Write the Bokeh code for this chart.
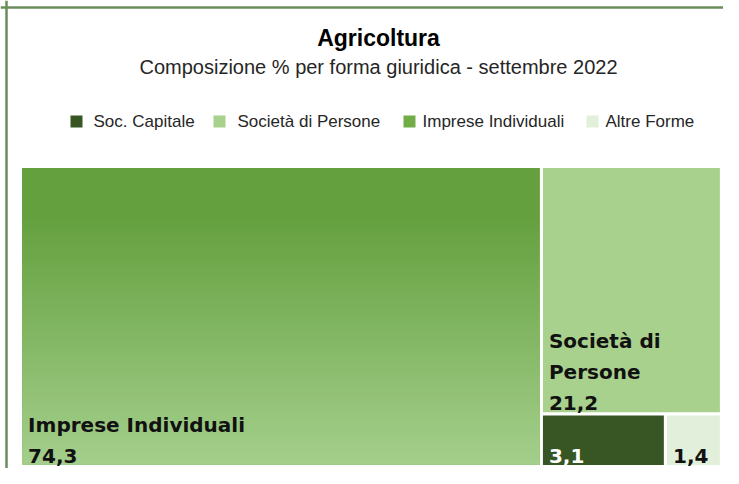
import numpy as np
from bokeh.plotting import figure
from bokeh.models import Range1d, ColumnDataSource, Span
from bokeh.core.properties import value
from bokeh.embed import file_html
from bokeh.resources import INLINE

# ---------------- data ----------------
title_text = "Agricoltura"
subtitle_text = "Composizione % per forma giuridica - settembre 2022"
legend_names = ["Soc. Capitale", "Società di Persone", "Imprese Individuali", "Altre Forme"]
legend_colors = ["#375623", "#a9d18e", "#70ad47", "#e2efda"]
categories = ["Imprese Individuali", "Società di Persone", "Soc. Capitale", "Altre Forme"]
values = [74.3, 21.2, 3.1, 1.4]
value_labels = ["74,3", "21,2", "3,1", "1,4"]
cat_colors = ["#70ad47", "#a9d18e", "#375623", "#e2efda"]
label_colors = ["#111111", "#111111", "#ffffff", "#111111"]

# ---------------- layout constants ----------------
W, H = 723, 468
BOX = (20, 2, 721, 302)          # left, bottom, right, top (data = pixels)
GAP = 1.6
SANS = "Liberation Sans"
LABEL_FONT = "DejaVu Sans"
LABEL_SIZE = 20

p = figure(width=W, height=H, x_range=Range1d(0, W), y_range=Range1d(0, H),
           output_backend="svg", toolbar_location=None, min_border=0,
           x_axis_type=None, y_axis_type=None)
p.grid.visible = False
p.outline_line_color = None
p.background_fill_color = "white"

# frame (top and left visible)
p.add_layout(Span(location=H - 7, dimension="width", line_color="#6b8d5c", line_width=2.5))
p.add_layout(Span(location=6, dimension="height", line_color="#6b8d5c", line_width=2.5))


def slice_dice(vals, x0, y0, x1, y1):
    rects = []
    remaining = float(sum(vals))
    horizontal = True
    for i, v in enumerate(vals):
        if i == len(vals) - 1:
            rects.append((x0, y0, x1, y1))
            break
        frac = v / remaining
        if horizontal:
            xm = x0 + (x1 - x0) * frac
            rects.append((x0, y0, xm, y1))
            x0 = xm
        else:
            ym = y1 - (y1 - y0) * frac
            rects.append((x0, ym, x1, y1))
            y1 = ym
        remaining -= v
        horizontal = not horizontal
    return rects


rects = slice_dice(values, *BOX)
lefts = [r[0] + GAP for r in rects]
bottoms = [r[1] + GAP for r in rects]
rights = [r[2] - GAP for r in rects]
tops = [r[3] - GAP for r in rects]

src = ColumnDataSource(dict(left=lefts, right=rights, bottom=bottoms, top=tops,
                            color=cat_colors, name=categories))
p.quad(left="left", right="right", bottom="bottom", top="top", fill_color="color",
       line_color=None, source=src)

# gradient on the largest tile
def hex_rgb(h):
    h = h.lstrip("#")
    return [int(h[i:i + 2], 16) for i in (0, 2, 4)]

top_c = np.array(hex_rgb("#64a03e"), float)
bot_c = np.array(hex_rgb("#a4cf8c"), float)
N = 120
t = np.linspace(0, 1, N)[:, None]  # row 0 = bottom
t = np.clip(t / 0.85, 0, 1)
cols = bot_c * (1 - t) + top_c * t
img = np.zeros((N, 1), dtype=np.uint32)
view = img.view(dtype=np.uint8).reshape((N, 1, 4))
view[:, 0, 0] = cols[:, 0].astype(np.uint8)
view[:, 0, 1] = cols[:, 1].astype(np.uint8)
view[:, 0, 2] = cols[:, 2].astype(np.uint8)
view[:, 0, 3] = 255
i0 = int(np.argmax(values))
p.image_rgba(image=[img], x=lefts[i0], y=bottoms[i0], dw=rights[i0] - lefts[i0],
             dh=tops[i0] - bottoms[i0])

# tile labels
def wrap(text, maxw, size):
    words = text.split()
    lines, cur = [], ""
    for w in words:
        cand = (cur + " " + w).strip()
        if len(cand) * 0.62 * size <= maxw or not cur:
            cur = cand
        else:
            lines.append(cur)
            cur = w
    if cur:
        lines.append(cur)
    return lines

LINE = 31
lx, ly, lt, lc = [], [], [], []
for i, name in enumerate(categories):
    x = lefts[i] + 6
    base = bottoms[i] + 9
    lines = wrap(name, rights[i] - lefts[i] - 14, LABEL_SIZE)
    h = tops[i] - bottoms[i]
    all_lines = [value_labels[i]]
    if h >= (len(lines) + 1) * LINE + 14:
        all_lines = lines + [value_labels[i]]
    n = len(all_lines)
    for k, ln in enumerate(all_lines):
        lx.append(x)
        ly.append(base + (n - 1 - k) * LINE)
        lt.append(ln)
        lc.append(label_colors[i])

p.text(x=lx, y=ly, text=lt, text_color=lc, text_font=value(LABEL_FONT),
       text_font_style="bold", text_font_size=f"{LABEL_SIZE}px",
       text_baseline="alphabetic", text_align="left")

# titles
p.text(x=[378], y=[H - 37], text=[title_text], text_font=value(SANS),
       text_font_style="bold", text_font_size="23px", text_color="#000000",
       text_align="center", text_baseline="middle")
p.text(x=[378], y=[H - 66], text=[subtitle_text], text_font=value(SANS),
       text_font_size="20px", text_color="#262626",
       text_align="center", text_baseline="middle")

# legend
leg_sq_x = [76, 219, 409, 592]
leg_tx_x = [93, 237, 422, 605]
leg_y = H - 121
p.scatter(x=leg_sq_x, y=[leg_y] * 4, marker="square", size=12,
          fill_color=legend_colors, line_color=None)
p.text(x=leg_tx_x, y=[leg_y] * 4, text=legend_names, text_font=value(SANS),
       text_font_size="17px", text_color="#262626",
       text_align="left", text_baseline="middle")

open("out.html", "w").write(file_html(p, INLINE))
